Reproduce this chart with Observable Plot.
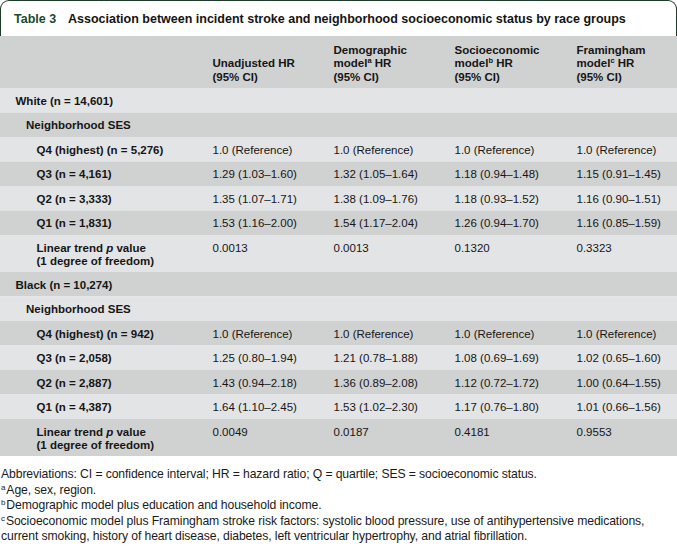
<!DOCTYPE html>
<html>
<head>
<meta charset="utf-8">
<script src="https://cdn.jsdelivr.net/npm/d3@7"></script>
<script src="https://cdn.jsdelivr.net/npm/@observablehq/plot@0.6"></script>
<style>
  html, body { margin: 0; padding: 0; background: #fff; }
  body { font-family: "Liberation Sans", Arial, sans-serif; color: #1a1a1a; width: 677px; }
  #title { box-sizing: border-box; width: 677px; height: 36px; border: 1.6px solid #1c3a28; border-bottom: none;
           border-radius: 9px 9px 0 0; position: relative; font-weight: bold; font-size: 12.5px; }
  #title .num { position: absolute; left: 13px; top: 11px; color: #1d4a2e; }
  #title .txt { position: absolute; left: 67px; top: 11px; color: #141414; }
  #chart svg { display: block; }
  #notes { font-size: 12.2px; line-height: 15.6px; margin-top: 11px; color: #1a1a1a; padding-left: 1px; letter-spacing: -0.1px; }
  #notes sup { font-size: 8px; line-height: 0; vertical-align: 4px; margin-right: 1px; }
</style>
</head>
<body>
<div id="title"><span class="num">Table 3</span><span class="txt">Association between incident stroke and neighborhood socioeconomic status by race groups</span></div>
<div id="chart"></div>
<div id="notes">
  <div>Abbreviations: CI = confidence interval; HR = hazard ratio; Q = quartile; SES = socioeconomic status.</div>
  <div><sup>a</sup>Age, sex, region.</div>
  <div><sup>b</sup>Demographic model plus education and household income.</div>
  <div><sup>c</sup>Socioeconomic model plus Framingham stroke risk factors: systolic blood pressure, use of antihypertensive medications,<br>current smoking, history of heart disease, diabetes, left ventricular hypertrophy, and atrial fibrillation.</div>
</div>
<script>
// ---- data ----
const columnHeaders = [
  "Unadjusted HR\n(95% CI)",
  "Demographic\nmodelᵃ HR\n(95% CI)",
  "Socioeconomic\nmodelᵇ HR\n(95% CI)",
  "Framingham\nmodelᶜ HR\n(95% CI)"
];
const rowLabels = [
  "White (n = 14,601)",
  "Neighborhood SES",
  "Q4 (highest) (n = 5,276)",
  "Q3 (n = 4,161)",
  "Q2 (n = 3,333)",
  "Q1 (n = 1,831)",
  "Linear trend p value\n(1 degree of freedom)",
  "Black (n = 10,274)",
  "Neighborhood SES",
  "Q4 (highest) (n = 942)",
  "Q3 (n = 2,058)",
  "Q2 (n = 2,887)",
  "Q1 (n = 4,387)",
  "Linear trend p value\n(1 degree of freedom)"
];
const rowLevel = [0, 1, 2, 2, 2, 2, 2, 0, 1, 2, 2, 2, 2, 2];
const unadjustedHR = ["", "", "1.0 (Reference)", "1.29 (1.03–1.60)", "1.35 (1.07–1.71)", "1.53 (1.16–2.00)", "0.0013",
                      "", "", "1.0 (Reference)", "1.25 (0.80–1.94)", "1.43 (0.94–2.18)", "1.64 (1.10–2.45)", "0.0049"];
const demographicHR = ["", "", "1.0 (Reference)", "1.32 (1.05–1.64)", "1.38 (1.09–1.76)", "1.54 (1.17–2.04)", "0.0013",
                       "", "", "1.0 (Reference)", "1.21 (0.78–1.88)", "1.36 (0.89–2.08)", "1.53 (1.02–2.30)", "0.0187"];
const socioeconomicHR = ["", "", "1.0 (Reference)", "1.18 (0.94–1.48)", "1.18 (0.93–1.52)", "1.26 (0.94–1.70)", "0.1320",
                         "", "", "1.0 (Reference)", "1.08 (0.69–1.69)", "1.12 (0.72–1.72)", "1.17 (0.76–1.80)", "0.4181"];
const framinghamHR = ["", "", "1.0 (Reference)", "1.15 (0.91–1.45)", "1.16 (0.90–1.51)", "1.16 (0.85–1.59)", "0.3323",
                      "", "", "1.0 (Reference)", "1.02 (0.65–1.60)", "1.00 (0.64–1.55)", "1.01 (0.66–1.56)", "0.9553"];

// ---- layout ----
const colWidths = [197, 121, 121, 122, 116];
const colStart = colWidths.map((w, i) => d3.sum(colWidths.slice(0, i)));
const W = d3.sum(colWidths);
const cellInset = 15, indentStep = 10.5;
const fs = 11.5, lineStep = 12.5, rowPad = 12, headerHeight = 52;
const dark = "#d0d1d1", light = "#e3e4e5";

const series = [unadjustedHR, demographicHR, socioeconomicHR, framinghamHR];
const rows = [{label: "", level: 0, cells: columnHeaders, header: true}]
  .concat(rowLabels.map((label, i) => ({label, level: rowLevel[i], cells: series.map(s => s[i]), header: false})));
let acc = 0;
rows.forEach((r, i) => {
  const n = d3.max([r.label, ...r.cells], s => s.split("\n").length);
  const h = r.header ? headerHeight : rowPad + lineStep * n;
  r.i = i; r.y0 = acc; r.y1 = acc + h; acc += h;
});
const H = acc;
const cells = rows.flatMap(r => r.cells.map((text, j) => ({row: r, col: j + 1, text})));

const plot = Plot.plot({
  width: W, height: H, margin: 0,
  style: {fontFamily: "'Liberation Sans', Arial, sans-serif", fontSize: fs + "px", color: "#161616", background: "transparent"},
  x: {domain: [0, W], range: [0, W], axis: null},
  y: {domain: [0, H], range: [0, H], axis: null},
  color: {type: "identity"},
  marks: [
    Plot.rect(rows, {x1: () => 0, x2: () => W, y1: "y0", y2: "y1", fill: r => r.i % 2 === 0 ? dark : light}),
    Plot.text(rows.filter(r => !r.header), {
      x: r => colStart[0] + cellInset + r.level * indentStep,
      y: r => (r.y0 + r.y1) / 2,
      text: "label", textAnchor: "start", lineAnchor: "middle",
      fontWeight: "bold", fontSize: fs, lineHeight: 13 / fs
    }),
    Plot.text(cells.filter(c => !c.row.header), {
      x: c => colStart[c.col] + cellInset,
      y: c => c.row.y0 + (rowPad + lineStep) / 2,
      text: "text", textAnchor: "start", lineAnchor: "middle",
      fontSize: fs, lineHeight: 13 / fs
    }),
    Plot.text(cells.filter(c => c.row.header), {
      x: c => colStart[c.col] + cellInset,
      y: c => c.row.y1 - 8,
      text: "text", textAnchor: "start", lineAnchor: "bottom",
      fontWeight: "bold", fontSize: fs, lineHeight: 13.5 / fs
    })
  ]
});

// superscripts and italics inside text
const ns = "http://www.w3.org/2000/svg";
const supMap = {"ᵃ": "a", "ᵇ": "b", "ᶜ": "c"};
for (const el of plot.querySelectorAll("text, tspan")) {
  if (el.childElementCount) continue;
  const parts = el.textContent.split(/([ᵃᵇᶜ]| p )/);
  if (parts.length === 1) continue;
  el.textContent = "";
  for (const p of parts) {
    if (!p) continue;
    if (supMap[p]) {
      const s = document.createElementNS(ns, "tspan");
      s.setAttribute("baseline-shift", "super");
      s.setAttribute("font-size", "7.5");
      s.textContent = supMap[p];
      el.append(s);
    } else if (p === " p ") {
      el.append(" ");
      const s = document.createElementNS(ns, "tspan");
      s.setAttribute("font-style", "italic");
      s.textContent = "p";
      el.append(s);
      el.append(" ");
    } else el.append(p);
  }
}
document.getElementById("chart").append(plot);
</script>
</body>
</html>
